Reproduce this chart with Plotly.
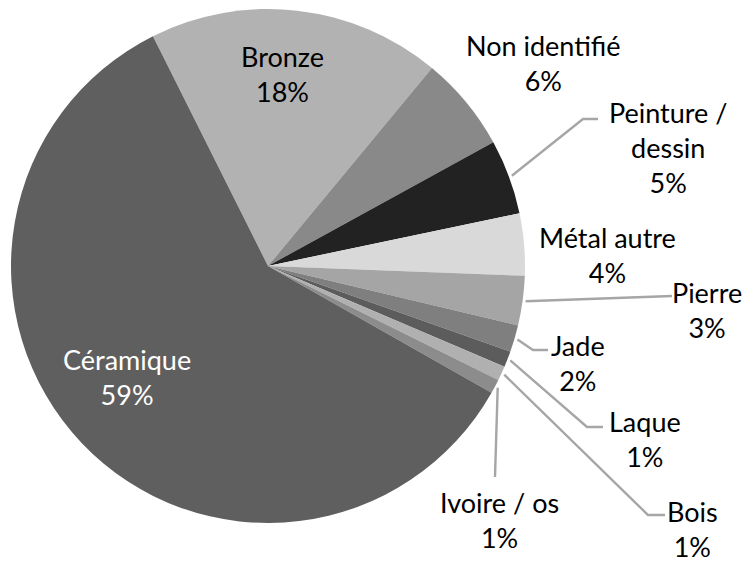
import math
import plotly.graph_objects as go

# ---- data ----
labels = ["Bronze", "Non identifié", "Peinture /<br>dessin", "Métal autre", "Pierre",
          "Jade", "Laque", "Bois", "Ivoire / os", "Céramique"]
values = [18.4, 6.0, 4.7, 3.9, 3.1, 1.7, 1.0, 0.9, 0.9, 59.4]
colors = ["#b2b2b2", "#898989", "#222222", "#d9d9d9", "#a5a5a5",
          "#7f7f7f", "#5c5c5c", "#b0b0b0", "#8c8c8c", "#5f5f5f"]

# ---- layout constants (pixels) ----
W, H = 756, 563
CX, CY, R = 268, 266, 257
START = -26.6  # angle of first slice start, degrees clockwise from 12 o'clock

label_pos = [(282, 74), (543, 63), (668, 147), (607, 255), (707, 310),
             (578, 363), (645, 439), (692, 529), (499, 520), (127, 377)]
label_color = ["#000000"] * 9 + ["#ffffff"]
# leader line tail points (after the start point on the pie edge); None = no leader
leaders = [None, None, [(583, 119), (598, 119)], None, [(652, 297), (672, 296)],
           [(533, 350), (548, 350)], [(587, 427), (603, 427)],
           [(648, 515), (665, 515)], [(495, 477)], None]

fig = go.Figure()
fig.add_trace(go.Pie(
    labels=labels, values=values, sort=False, direction="clockwise",
    rotation=START, textinfo="none", hoverinfo="label+percent",
    marker=dict(colors=colors, line=dict(width=0)),
    showlegend=False,
    domain=dict(x=[(CX - R) / W, (CX + R) / W],
                y=[(H - (CY + R)) / H, (H - (CY - R)) / H]),
))

total = sum(values)
cum = 0.0
annotations = []
for i, v in enumerate(values):
    a0 = START + cum / total * 360
    cum += v
    a1 = START + cum / total * 360
    mid = math.radians((a0 + a1) / 2)
    pct = round(v / total * 100)
    lx, ly = label_pos[i]
    annotations.append(dict(
        x=lx, y=ly, xref="x", yref="y", text=f"{labels[i]}<br>{pct}%",
        showarrow=False, xanchor="center", yanchor="middle", align="center",
        font=dict(family="Lato", size=27, color=label_color[i]),
    ))
    if leaders[i]:
        sx = CX + (R + 3) * math.sin(mid)
        sy = CY - (R + 3) * math.cos(mid)
        pts = [(sx, sy)] + leaders[i]
        fig.add_trace(go.Scatter(
            x=[p[0] for p in pts], y=[p[1] for p in pts], mode="lines",
            line=dict(color="#a6a6a6", width=2.4), hoverinfo="skip",
            showlegend=False,
        ))

fig.update_layout(
    width=W, height=H, margin=dict(l=0, r=0, t=0, b=0),
    paper_bgcolor="white", plot_bgcolor="rgba(0,0,0,0)",
    xaxis=dict(range=[0, W], visible=False, domain=[0, 1], fixedrange=True),
    yaxis=dict(range=[H, 0], visible=False, domain=[0, 1], fixedrange=True),
    annotations=annotations,
)

fig.write_html("out.html", config={"displayModeBar": False},
               post_script="document.body.style.margin='0';document.body.style.overflow='hidden';")
